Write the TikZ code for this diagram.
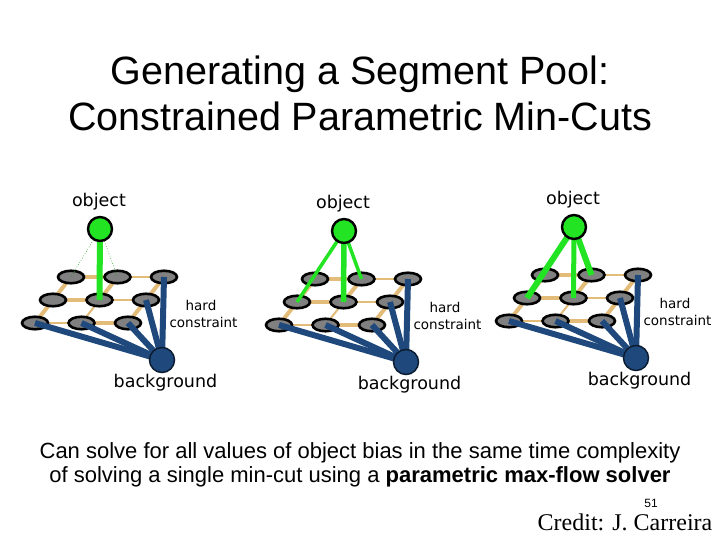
\documentclass[tikz,border=0pt]{standalone}
\usepackage{fontspec}
\setmainfont{Liberation Sans}
\newfontfamily\lblfont{DejaVu Sans}
\newfontfamily\credfont{Liberation Serif}
\usetikzlibrary{shapes.geometric}
\definecolor{objgreen}{RGB}{34,228,34}
\definecolor{bgblue}{RGB}{31,73,125}
\definecolor{tanedge}{RGB}{226,188,120}
\definecolor{nodegrey}{RGB}{128,128,128}
\tikzset{
  gridnode/.style={ellipse, draw=black, fill=nodegrey, line width=2.6bp, minimum width=26bp, minimum height=12.5bp, inner sep=0pt},
  tanthick/.style={draw=tanedge, line width=4bp},
  tanthin/.style={draw=tanedge, line width=2bp},
  blueline/.style={draw=bgblue, line width=6bp},
  greenline/.style={draw=objgreen, line width=#1bp},
  greenline/.default=5,
  greendot/.style={draw=objgreen!70!black, line width=0.6bp, dotted},
  objnode/.style={circle, fill=objgreen, draw=black, line width=2.4bp, minimum size=24bp, inner sep=0pt},
  bgnode/.style={circle, fill=bgblue, draw=black!60!bgblue, line width=1.5bp, minimum size=25bp, inner sep=0pt},
  lbl/.style={font=\lblfont\fontsize{17.5bp}{20bp}\selectfont, anchor=base, inner sep=0pt},
  smlbl/.style={font=\lblfont\fontsize{13.5bp}{16bp}\selectfont, anchor=base, inner sep=0pt},
  titletext/.style={font=\fontsize{39.5bp}{46bp}\selectfont, anchor=base, inner sep=0pt},
  bodytext/.style={font=\fontsize{22bp}{26bp}\selectfont, anchor=base, inner sep=0pt},
}
\begin{document}
\begin{tikzpicture}[x=1bp,y=-1bp]
\useasboundingbox (0,0) rectangle (720,540);
\fill[white] (0,0) rectangle (720,540);

% title
\node[titletext] (t1) at (360,85) {Generating a Segment Pool:};
\node[titletext] (t2) at (360,131) {Constrained Parametric Min-Cuts};

% panels
\foreach \p/\sx/\sy in {1/0/0,2/244/2,3/474/-2}{
  \begin{scope}[shift={(\sx,\sy)}]
    \foreach \i in {0,1,2}{
      \foreach \j in {0,1,2}{
        \coordinate (p\p-\i\j) at ({71+46.5*\i-18*\j},{277+23*\j});
      }
    }
    \coordinate (p\p-obj) at (100,229);
    \coordinate (p\p-bg) at (162,360);
    % lattice edges
    \draw[tanthick] (p\p-00) -- (p\p-10);
    \draw[tanthin]  (p\p-10) -- (p\p-20);
    \draw[tanthick] (p\p-01) -- (p\p-11);
    \draw[tanthin]  (p\p-11) -- (p\p-21);
    \draw[tanthin]  (p\p-02) -- (p\p-12);
    \draw[tanthick] (p\p-12) -- (p\p-22);
    \draw[tanthick] (p\p-00) -- (p\p-01);
    \draw[tanthick] (p\p-01) -- (p\p-02);
    \draw[tanthick] (p\p-10) -- (p\p-11);
    \draw[tanthin]  (p\p-11) -- (p\p-12);
    \draw[tanthick] (p\p-20) -- (p\p-21);
    \draw[tanthick] (p\p-21) -- (p\p-22);
    % pixel nodes
    \foreach \i in {0,1,2}{
      \foreach \j in {0,1,2}{
        \node[gridnode] (p\p-e\i\j) at (p\p-\i\j) {};
      }
    }
    % background links
    \draw[blueline] (p\p-bg) -- (p\p-02);
    \draw[blueline] (p\p-bg) -- (p\p-12);
    \draw[blueline] (p\p-bg) -- (p\p-22);
    \draw[blueline] (p\p-bg) -- (p\p-21);
    \draw[blueline] (p\p-bg) -- (p\p-20);
    % labels
    \node[lbl] (p\p-lo) at (99,207) {object};
    \node[smlbl] (p\p-lh) at (201,310) {hard};
    \node[smlbl] (p\p-lc) at (203.5,327.5) {constraint};
    \node[lbl] (p\p-lb) at (165.5,387) {background};
  \end{scope}
}

% object links
\draw[greendot] (p1-obj) -- (p1-00);
\draw[greendot] (p1-obj) -- (p1-10);
\draw[greenline=6] (p1-obj) -- (p1-11);

\draw[greenline=3.5] (p2-obj) -- (p2-01);
\draw[greenline=5.5] (p2-obj) -- (p2-11);
\draw[greenline=3.5] (p2-obj) -- (p2-10);

\draw[greenline=6] (p3-obj) -- (p3-01);
\draw[greenline=5] (p3-obj) -- (p3-11);
\draw[greenline=6] (p3-obj) -- (p3-10);

% terminals
\foreach \p in {1,2,3}{
  \node[objnode] (p\p-o) at (p\p-obj) {};
  \node[bgnode] (p\p-b) at (p\p-bg) {};
}

% body text
\node[bodytext] (b1) at (360,458) {Can solve for all values of object bias in the same time complexity};
\node[bodytext] (b2) at (360,482) {of solving a single min-cut using a \textbf{parametric max-flow solver}};

\node[font=\fontsize{12bp}{14bp}\selectfont, anchor=base, inner sep=0pt] (pg) at (651,507) {51};
\node[font=\credfont\fontsize{24bp}{28bp}\selectfont, anchor=base, inner sep=0pt] (cr) at (625,530) {Credit: J. Carreira};
\end{tikzpicture}
\end{document}
